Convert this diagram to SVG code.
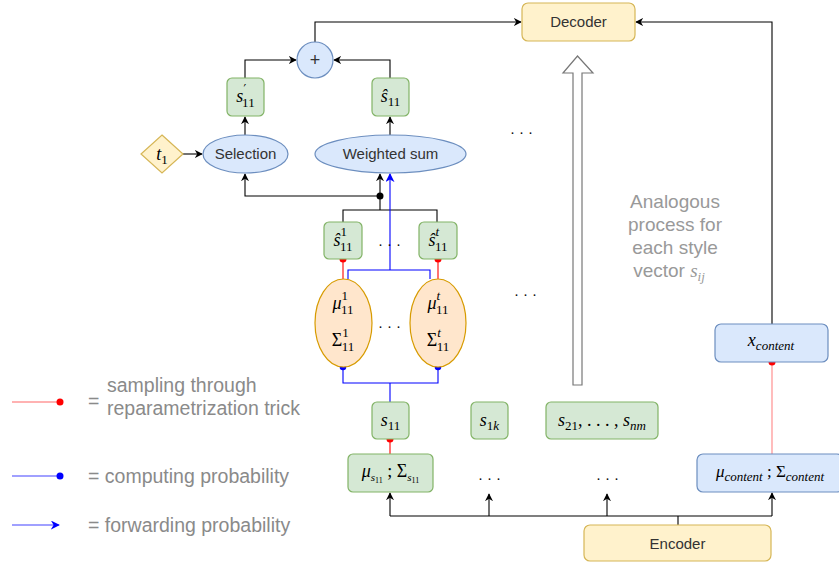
<svg xmlns="http://www.w3.org/2000/svg" width="839" height="562" viewBox="0 0 839 562">
<style>
.g{fill:#d5e8d4;stroke:#82b366;stroke-width:1.2}
.b{fill:#dae8fc;stroke:#6c8ebf;stroke-width:1.2}
.y{fill:#fff2cc;stroke:#d6b656;stroke-width:1.2}
.o{fill:#ffe6cc;stroke:#d79b00;stroke-width:1.2}
.k{fill:none;stroke:#000;stroke-width:1.1}
.bl{fill:none;stroke:#0000ff;stroke-width:1.1}
.rd{fill:none;stroke:#ff9999;stroke-width:1.3}
.lbl{font-family:"Liberation Sans",Arial,sans-serif;font-size:15px;fill:#333;text-anchor:middle}
.m{font-family:"Liberation Serif","DejaVu Serif",serif;font-style:italic;font-size:18px;fill:#000;text-anchor:middle}
.n{font-style:normal;font-size:13px}
.ni{font-style:italic;font-size:13px}
.up{font-style:normal}
.leg{font-family:"Liberation Sans",Arial,sans-serif;font-size:19.5px;fill:#8a8a8a}
.dots{font-family:"Liberation Serif",serif;font-size:14px;fill:#000;text-anchor:middle;letter-spacing:1px}
</style>
<defs>
<marker id="ak" viewBox="0 0 10 10" refX="9" refY="5" markerWidth="8" markerHeight="8" markerUnits="userSpaceOnUse" orient="auto"><path d="M0,0 L10,5 L0,10 L3,5 z" fill="#000"/></marker>
<marker id="ab" viewBox="0 0 10 10" refX="9" refY="5" markerWidth="9" markerHeight="9" markerUnits="userSpaceOnUse" orient="auto"><path d="M0,0 L10,5 L0,10 L3,5 z" fill="#0000ff"/></marker>
</defs>
<rect width="839" height="562" fill="#fff"/>

<g id="connectors">
<path class="k" d="M315,42 V22 H521" marker-end="url(#ak)"/>
<path class="k" d="M772,324 V22 H636" marker-end="url(#ak)"/>
<path class="k" d="M245,78 V60 H296" marker-end="url(#ak)"/>
<path class="k" d="M390,78 V60 H334" marker-end="url(#ak)"/>
<path class="k" d="M245,135 V117" marker-end="url(#ak)"/>
<path class="k" d="M390,135 V117" marker-end="url(#ak)"/>
<path class="k" d="M183,154 H202" marker-end="url(#ak)"/>
<path class="k" d="M380,196 H245 V174" marker-end="url(#ak)"/>
<path class="k" d="M380,196 V174" marker-end="url(#ak)"/>
<path class="k" d="M380,196 V210 M343,222 V210 H437 V222"/>
<circle cx="380" cy="196" r="3.5" fill="#000"/>
<path class="bl" d="M390,270 V174" marker-end="url(#ab)"/>
<path class="bl" d="M348,279 V270 H430 V279"/>
<path d="M343,259 V279 M438,259 V279" fill="none" stroke="#ff0000" stroke-width="1.1"/>
<circle cx="343" cy="259" r="3.5" fill="#ff0000"/>
<circle cx="438" cy="259" r="3.5" fill="#ff0000"/>
<path class="bl" d="M343,367 V383 H438 V367 M390,383 V402"/>
<circle cx="343" cy="367" r="3.3" fill="#0000ff"/>
<circle cx="438" cy="367" r="3.3" fill="#0000ff"/>
<path d="M390,439 V454" fill="none" stroke="#ff0000" stroke-width="1.1"/>
<circle cx="390" cy="439" r="3.5" fill="#ff0000"/>
<path class="rd" d="M772,362 V454"/>
<circle cx="772" cy="362" r="3.5" fill="#ff0000"/>
<path class="k" d="M678,525 V516 M390,516 H772"/>
<path class="k" d="M390,516 V493" marker-end="url(#ak)"/>
<path class="k" d="M489,516 V494" marker-end="url(#ak)"/>
<path class="k" d="M607,516 V494" marker-end="url(#ak)"/>
<path class="k" d="M772,516 V493" marker-end="url(#ak)"/>
<polygon points="573,385 573,73 563,73 577.5,56 593,73 582,73 582,385" fill="#fff" stroke="#777" stroke-width="1.2"/>
</g>

<g id="decoder"><rect class="y" x="522" y="3" width="113" height="38" rx="6"/><text class="lbl" x="578.5" y="27">Decoder</text></g>
<g id="plus"><circle class="b" cx="315" cy="60" r="18"/><text x="315" y="66" style="font-family:'Liberation Sans',sans-serif;font-size:18px;fill:#333;text-anchor:middle">+</text></g>
<g id="s11prime"><rect class="g" x="227" y="78" width="37" height="38" rx="5"/><text class="m" x="245.5" y="102">s<tspan class="up" style="font-family:'DejaVu Sans',sans-serif;font-size:12px" dy="-9">′</tspan><tspan class="n" dx="-4" dy="14">11</tspan></text></g>
<g id="s11hat"><rect class="g" x="372" y="78" width="37" height="38" rx="5"/><text class="m" x="390.5" y="102">ŝ<tspan class="n" dy="4">11</tspan></text></g>
<g id="t1"><polygon class="y" points="162,135 183,154 162,173 141,154"/><text class="m" x="162" y="160">t<tspan class="n" dy="4">1</tspan></text></g>
<g id="selection"><ellipse class="b" cx="245.5" cy="154" rx="42.5" ry="19"/><text class="lbl" x="245.5" y="159">Selection</text></g>
<g id="weighted"><ellipse class="b" cx="390.5" cy="154" rx="75.5" ry="19"/><text class="lbl" x="390.5" y="159">Weighted sum</text></g>
<g id="dots1"><text class="dots" x="522" y="134">. . .</text><text class="dots" x="526" y="296">. . .</text><text class="dots" x="390" y="246">. . .</text><text class="dots" x="390" y="328">. . .</text><text class="dots" x="490" y="480">. . .</text><text class="dots" x="608" y="480">. . .</text></g>
<g id="s11hat1"><rect class="g" x="324" y="222" width="38" height="37" rx="5"/><text class="m" x="343" y="246">ŝ<tspan class="n" dy="-10">1</tspan><tspan class="n" dx="-6.5" dy="15">11</tspan></text></g>
<g id="s11hatt"><rect class="g" x="419" y="222" width="38" height="37" rx="5"/><text class="m" x="438" y="246">ŝ<tspan class="ni" dy="-10">t</tspan><tspan class="n" dx="-4" dy="15">11</tspan></text></g>
<g id="dist1"><ellipse class="o" cx="343.5" cy="323" rx="28.5" ry="44"/><text class="m" x="343" y="309">μ<tspan class="n" dy="-9">1</tspan><tspan class="n" dx="-6.5" dy="14">11</tspan></text><text class="m" x="343" y="346"><tspan class="up">Σ</tspan><tspan class="n" dy="-9">1</tspan><tspan class="n" dx="-6.5" dy="14">11</tspan></text></g>
<g id="distt"><ellipse class="o" cx="438" cy="323" rx="28" ry="44"/><text class="m" x="438" y="309">μ<tspan class="ni" dy="-9">t</tspan><tspan class="n" dx="-4" dy="14">11</tspan></text><text class="m" x="438" y="346"><tspan class="up">Σ</tspan><tspan class="ni" dy="-9">t</tspan><tspan class="n" dx="-4" dy="14">11</tspan></text></g>
<g id="s11"><rect class="g" x="372" y="402" width="37" height="37" rx="5"/><text class="m" x="390.5" y="426">s<tspan class="n" dy="4">11</tspan></text></g>
<g id="s1k"><rect class="g" x="471" y="402" width="37" height="37" rx="5"/><text class="m" x="489.5" y="426">s<tspan class="n" dy="4">1</tspan><tspan class="ni">k</tspan></text></g>
<g id="s21"><rect class="g" x="546" y="402" width="112" height="37" rx="5"/><text class="m" x="602" y="426">s<tspan class="n" dy="4">21</tspan><tspan class="up" dy="-4">, . . . , </tspan>s<tspan class="ni" dy="4">nm</tspan></text></g>
<g id="mus11"><rect class="g" x="348" y="454" width="85" height="38" rx="5"/><text class="m" x="390.5" y="477">μ<tspan class="ni" dy="4" style="font-size:11px">s</tspan><tspan class="n" dy="2" style="font-size:8px">11</tspan><tspan class="up" dy="-6"> ; Σ</tspan><tspan class="ni" dy="4" style="font-size:11px">s</tspan><tspan class="n" dy="2" style="font-size:8px">11</tspan></text></g>
<g id="mucontent"><rect class="b" x="697" y="454" width="146" height="38" rx="6"/><text class="m" x="770" y="477" style="font-size:17px">μ<tspan class="ni" dy="4">content</tspan><tspan class="up" dy="-4"> ; Σ</tspan><tspan class="ni" dy="4">content</tspan></text></g>
<g id="xcontent"><rect class="b" x="715" y="324" width="113" height="38" rx="6"/><text class="m" x="771" y="346">x<tspan class="ni" dy="4">content</tspan></text></g>
<g id="encoder"><rect class="y" x="584" y="525" width="187" height="36" rx="6"/><text class="lbl" x="677.5" y="549">Encoder</text></g>
<g id="analogous"><text class="leg" text-anchor="middle" style="font-size:19px;fill:#999"><tspan x="675" y="208">Analogous</tspan><tspan x="675" y="231">process for</tspan><tspan x="675" y="254">each style</tspan><tspan x="669" y="277">vector <tspan font-family="Liberation Serif,serif" style="font-style:italic">s<tspan font-size="13" dy="4">ij</tspan></tspan></tspan></text></g>
<g id="legend">
<path d="M12,402 H60" stroke="#ff9999" stroke-width="1.3"/><circle cx="60" cy="402" r="3.5" fill="#ff0000"/>
<text class="leg" x="88" y="408">=</text>
<text class="leg" x="107" y="392">sampling through</text>
<text class="leg" x="107" y="415">reparametrization trick</text>
<path d="M12,476 H60" stroke="#8080ff" stroke-width="1.3"/><circle cx="60" cy="476" r="3.5" fill="#0000ff"/>
<text class="leg" x="88" y="483">= computing probability</text>
<path d="M12,525 H59" stroke="#8080ff" stroke-width="1.3" marker-end="url(#ab)"/>
<text class="leg" x="88" y="532">= forwarding probability</text>
</g>
</svg>
